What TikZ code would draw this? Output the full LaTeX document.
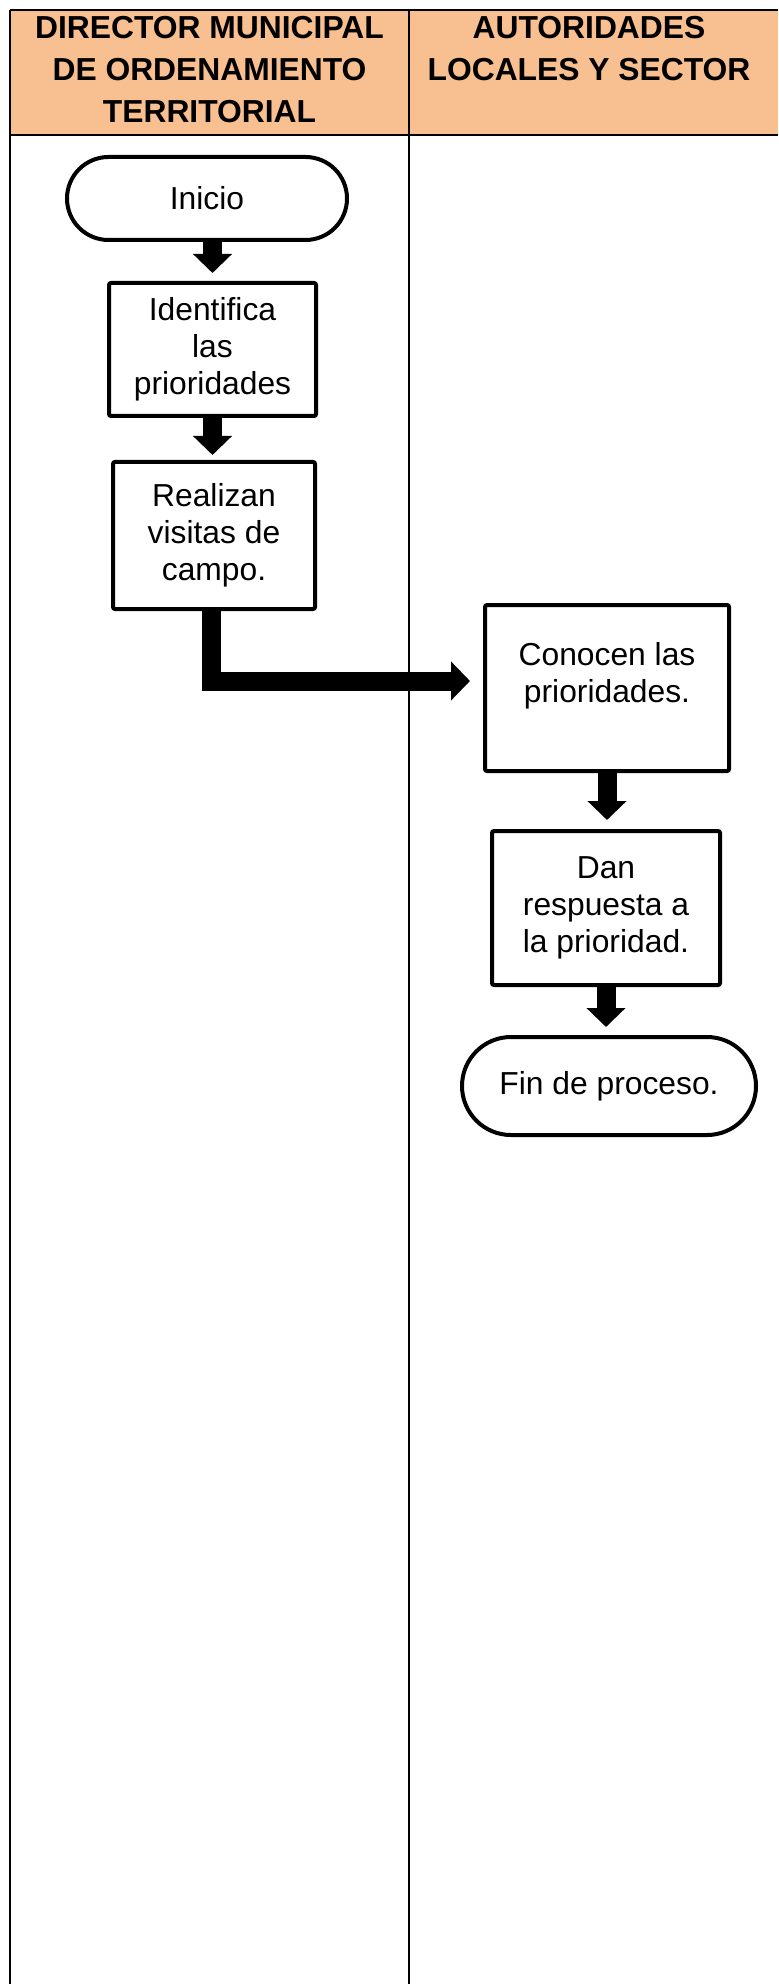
\documentclass[tikz,border=0pt]{standalone}
\usepackage{fontspec}
\setmainfont{Liberation Sans}
\usepackage{tikz}
\usetikzlibrary{arrows.meta,shapes.misc,positioning}

\definecolor{cabecera}{RGB}{248,191,144}

\begin{document}
\begin{tikzpicture}[x=0.5pt,y=-0.5pt,
    caja/.style={draw, line width=2pt, rounded corners=1pt, align=center, inner sep=0pt,
        font=\fontsize{15.9}{18.4}\selectfont},
    terminal/.style={draw, line width=2pt, rounded rectangle, align=center, inner sep=0pt,
        font=\fontsize{15.9}{18.4}\selectfont},
    flecha/.style={line width=9.5pt, line join=miter, -{Triangle[width=19pt,length=9.5pt]}},
    titulo/.style={align=center, font=\bfseries\fontsize{15.9}{21}\selectfont},
    linea/.style={line width=1.3pt}]
    \useasboundingbox (0,0) rectangle (778,1984);
    % cabecera de la tabla
    \fill[cabecera] (10,10) rectangle (778,135);
    \draw[linea] (10,10) -- (778,10);
    \draw[linea] (10,135) -- (778,135);
    \draw[linea] (10,10) -- (10,1984);
    \draw[linea] (409,10) -- (409,1984);
    \node[titulo] (col1) at (209.5,70) {DIRECTOR MUNICIPAL\\DE ORDENAMIENTO\\TERRITORIAL};
    \node[titulo] (col2) at (589,49) {AUTORIDADES\\LOCALES Y SECTOR};

    % director
    \node[terminal, minimum width=140pt, minimum height=41.5pt] (ini) at (207,198.5) {Inicio};
    \node[caja, minimum width=103.5pt, minimum height=66.5pt] (ide) at (212.5,349.5) {Identifica\\las\\prioridades};
    \node[caja, minimum width=101pt, minimum height=73.5pt] (rea) at (214,535.5) {Realizan\\visitas de\\campo.};

    % autoridades
    \node[caja, minimum width=122pt, minimum height=83pt] (con) at (607,688) {Conocen las\\prioridades.\\[-3pt]\mbox{}};
    \node[caja, minimum width=114pt, minimum height=77pt] (dan) at (606,908) {Dan\\respuesta a\\la prioridad.};
    \node[terminal, minimum width=147pt, minimum height=49pt] (fin) at (609,1086) {Fin de proceso.};

    \draw[flecha, shorten >=4pt] (ide.north |- ini.south) -- (ide.north);
    \draw[flecha, shorten >=2.5pt] (ide.south) -- (ide.south |- rea.north);
    \draw[flecha, shorten >=6.5pt] ([xshift=-1.5pt]rea.south) |- ([yshift=3.5pt]con.west);
    \draw[flecha, shorten >=4.5pt] (con.south) -- (con.south |- dan.north);
    \draw[flecha, shorten >=4pt] (dan.south) -- (dan.south |- fin.north);
\end{tikzpicture}
\end{document}
